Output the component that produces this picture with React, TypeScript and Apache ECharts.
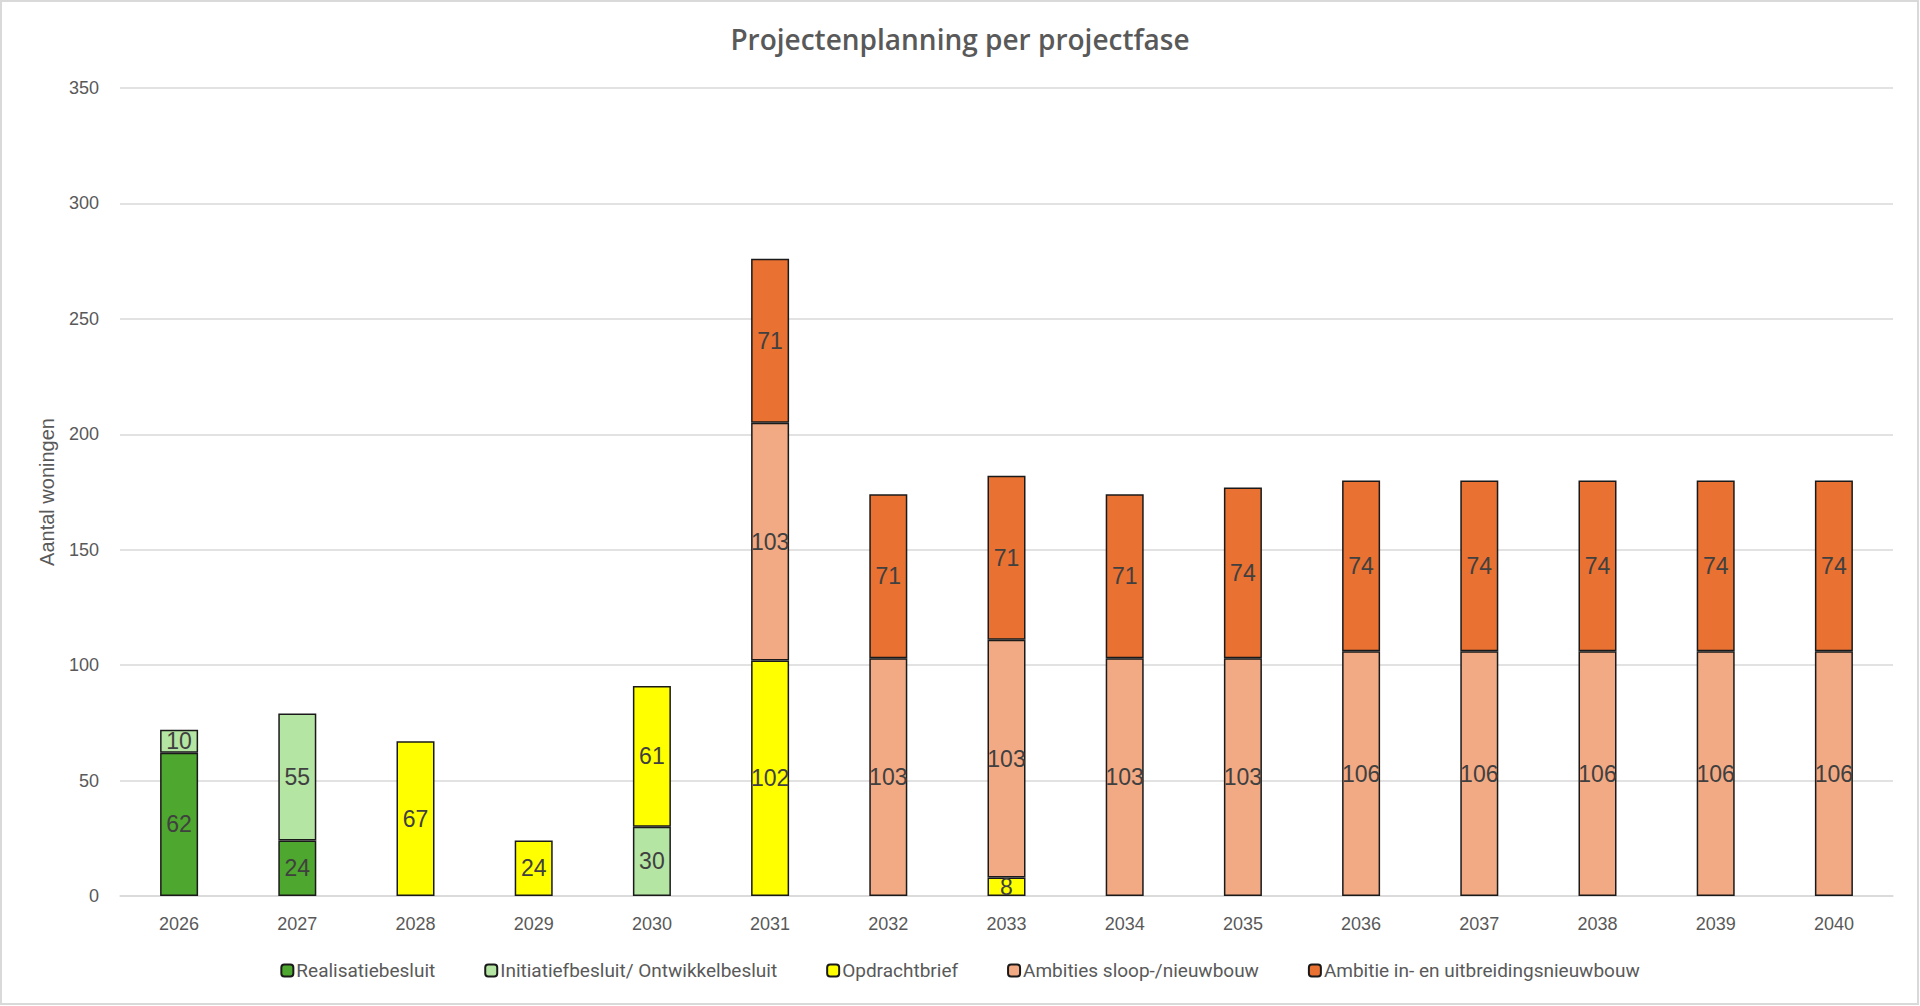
import React, { useEffect, useRef } from "react";
import * as echarts from "echarts";

const years = ["2026", "2027", "2028", "2029", "2030", "2031", "2032", "2033", "2034", "2035", "2036", "2037", "2038", "2039", "2040"];
const realisatiebesluit = [62, 24, null, null, null, null, null, null, null, null, null, null, null, null, null];
const initiatiefbesluit = [10, 55, null, null, 30, null, null, null, null, null, null, null, null, null, null];
const opdrachtbrief = [null, null, 67, 24, 61, 102, null, 8, null, null, null, null, null, null, null];
const ambitiesSloop = [null, null, null, null, null, 103, 103, 103, 103, 103, 106, 106, 106, 106, 106];
const ambitieUitbreiding = [null, null, null, null, null, 71, 71, 71, 71, 74, 74, 74, 74, 74, 74];

const seriesDefs = [
  { name: "Realisatiebesluit", data: realisatiebesluit, color: "#4EA72E" },
  { name: "Initiatiefbesluit/ Ontwikkelbesluit", data: initiatiefbesluit, color: "#B4E5A2" },
  { name: "Opdrachtbrief", data: opdrachtbrief, color: "#FFFF00" },
  { name: "Ambities sloop-/nieuwbouw", data: ambitiesSloop, color: "#F2AA84" },
  { name: "Ambitie in- en uitbreidingsnieuwbouw", data: ambitieUitbreiding, color: "#E97132" },
];

export default function App() {
  const ref = useRef<HTMLDivElement>(null);
  useEffect(() => {
    if (!ref.current) return;
    const chart = echarts.init(ref.current, null, { renderer: "svg" });
    chart.setOption({
      animation: false,
      backgroundColor: "#ffffff",
      title: {
        text: "Projectenplanning per projectfase",
        left: "center",
        top: 20,
        textStyle: { fontFamily: "Open Sans", fontSize: 28, fontWeight: 600, color: "#595959" },
      },
      graphic: [
        {
          type: "rect",
          shape: { x: 1, y: 1, width: 1917, height: 1003 },
          style: { fill: "none", stroke: "#d9d9d9", lineWidth: 2 },
          silent: true,
        },
      ],
      legend: {
        bottom: 21,
        left: "center",
        itemWidth: 12,
        itemHeight: 12,
        itemGap: 49,
        textStyle: { fontFamily: "Roboto", fontSize: 19, color: "#595959", padding: [0, 0, 0, -2] },
        data: seriesDefs.map((s) => s.name),
      },
      grid: { left: 120, right: 27, top: 88, bottom: 110, containLabel: false },
      xAxis: {
        type: "category",
        data: years,
        axisLine: { show: true, lineStyle: { color: "#d9d9d9", width: 1.5 } },
        axisTick: { show: false },
        axisLabel: { fontFamily: "Liberation Sans", fontSize: 18, color: "#595959", margin: 19 },
      },
      yAxis: {
        type: "value",
        min: 0,
        max: 350,
        interval: 50,
        name: "Aantal woningen",
        nameLocation: "middle",
        nameGap: 63,
        nameTextStyle: { fontFamily: "Liberation Sans", fontSize: 20, color: "#595959" },
        axisLine: { show: false },
        axisTick: { show: false },
        splitLine: { lineStyle: { color: "#d9d9d9", width: 1.5 } },
        axisLabel: { fontFamily: "Liberation Sans", fontSize: 18, color: "#595959", margin: 21 },
      },
      series: seriesDefs.map((s) => ({
        name: s.name,
        type: "bar",
        stack: "total",
        barWidth: 38,
        data: s.data,
        itemStyle: { color: s.color, borderColor: "#1a1a1a", borderWidth: 1.5 },
        label: {
          show: true,
          position: "inside",
          fontFamily: "Liberation Sans",
          fontSize: 23,
          color: "#404040",
        },
      })),
    });
    return () => chart.dispose();
  }, []);
  return (
    <div
      ref={ref}
      style={{ position: "absolute", left: 0, top: 0, width: 1920, height: 1006 }}
    />
  );
}
